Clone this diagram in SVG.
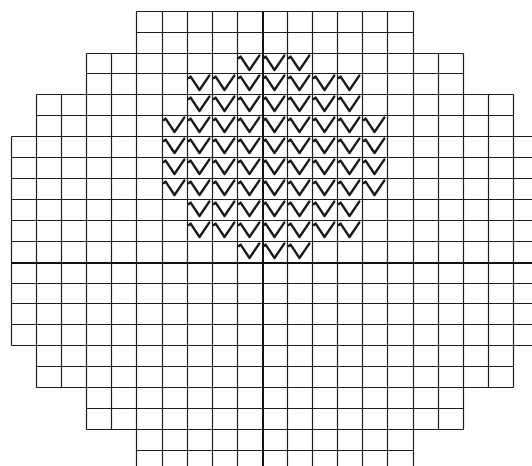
<svg xmlns="http://www.w3.org/2000/svg" xmlns:xlink="http://www.w3.org/1999/xlink" width="532" height="466" viewBox="0 0 532 466">
<style>
.g{stroke:#1e1e1e;stroke-width:1.2;fill:none}
.t{stroke:#111;stroke-width:2;fill:none}
.v{stroke:#1a1a1a;stroke-width:2.4;fill:none;stroke-linejoin:round;stroke-linecap:round}
</style>
<defs>
<path id="v" class="v" d="M1.8,5 L3.6,3.6 L12.5,17 L22.3,2.6"/>
</defs>
<rect width="532" height="466" fill="#ffffff"/>
<g id="grid">
<path class="g" d="M11.5,136.5V345.5 M36.5,94.5V387.5 M61.5,94.5V387.5 M86.5,53.5V429.5 M111.5,53.5V429.5 M136.5,11.5V471 M162.5,11.5V471 M187.5,11.5V471 M212.5,11.5V471 M237.5,11.5V471 M287.5,11.5V471 M312.5,11.5V471 M337.5,11.5V471 M362.5,11.5V471 M387.5,11.5V471 M413.5,11.5V471 M438.5,53.5V429.5 M463.5,53.5V429.5 M488.5,94.5V387.5 M513.5,94.5V387.5"/>
<path class="g" d="M136.5,11.5H413.5 M136.5,32.5H413.5 M86.5,53.5H463.5 M86.5,73.5H463.5 M36.5,94.5H513.5 M36.5,115.5H513.5 M11.5,136.5H538 M11.5,157.5H538 M11.5,178.5H538 M11.5,199.5H538 M11.5,220.5H538 M11.5,241.5H538 M11.5,283.5H538 M11.5,303.5H538 M11.5,324.5H538 M11.5,345.5H538 M36.5,366.5H513.5 M36.5,387.5H513.5 M86.5,408.5H463.5 M86.5,429.5H463.5 M136.5,450.5H413.5"/>
<path class="t" d="M263,11V471 M11,263H538"/>
</g>
<g id="marks">
<use xlink:href="#v" x="237" y="53"/><use xlink:href="#v" x="262" y="53"/><use xlink:href="#v" x="287" y="53"/>
<use xlink:href="#v" x="187" y="73"/><use xlink:href="#v" x="212" y="73"/><use xlink:href="#v" x="237" y="73"/><use xlink:href="#v" x="262" y="73"/><use xlink:href="#v" x="287" y="73"/><use xlink:href="#v" x="312" y="73"/><use xlink:href="#v" x="337" y="73"/>
<use xlink:href="#v" x="187" y="94"/><use xlink:href="#v" x="212" y="94"/><use xlink:href="#v" x="237" y="94"/><use xlink:href="#v" x="262" y="94"/><use xlink:href="#v" x="287" y="94"/><use xlink:href="#v" x="312" y="94"/><use xlink:href="#v" x="337" y="94"/>
<use xlink:href="#v" x="162" y="115"/><use xlink:href="#v" x="187" y="115"/><use xlink:href="#v" x="212" y="115"/><use xlink:href="#v" x="237" y="115"/><use xlink:href="#v" x="262" y="115"/><use xlink:href="#v" x="287" y="115"/><use xlink:href="#v" x="312" y="115"/><use xlink:href="#v" x="337" y="115"/><use xlink:href="#v" x="362" y="115"/>
<use xlink:href="#v" x="162" y="136"/><use xlink:href="#v" x="187" y="136"/><use xlink:href="#v" x="212" y="136"/><use xlink:href="#v" x="237" y="136"/><use xlink:href="#v" x="262" y="136"/><use xlink:href="#v" x="287" y="136"/><use xlink:href="#v" x="312" y="136"/><use xlink:href="#v" x="337" y="136"/><use xlink:href="#v" x="362" y="136"/>
<use xlink:href="#v" x="162" y="157"/><use xlink:href="#v" x="187" y="157"/><use xlink:href="#v" x="212" y="157"/><use xlink:href="#v" x="237" y="157"/><use xlink:href="#v" x="262" y="157"/><use xlink:href="#v" x="287" y="157"/><use xlink:href="#v" x="312" y="157"/><use xlink:href="#v" x="337" y="157"/><use xlink:href="#v" x="362" y="157"/>
<use xlink:href="#v" x="162" y="178"/><use xlink:href="#v" x="187" y="178"/><use xlink:href="#v" x="212" y="178"/><use xlink:href="#v" x="237" y="178"/><use xlink:href="#v" x="262" y="178"/><use xlink:href="#v" x="287" y="178"/><use xlink:href="#v" x="312" y="178"/><use xlink:href="#v" x="337" y="178"/><use xlink:href="#v" x="362" y="178"/>
<use xlink:href="#v" x="187" y="199"/><use xlink:href="#v" x="212" y="199"/><use xlink:href="#v" x="237" y="199"/><use xlink:href="#v" x="262" y="199"/><use xlink:href="#v" x="287" y="199"/><use xlink:href="#v" x="312" y="199"/><use xlink:href="#v" x="337" y="199"/>
<use xlink:href="#v" x="187" y="220"/><use xlink:href="#v" x="212" y="220"/><use xlink:href="#v" x="237" y="220"/><use xlink:href="#v" x="262" y="220"/><use xlink:href="#v" x="287" y="220"/><use xlink:href="#v" x="312" y="220"/><use xlink:href="#v" x="337" y="220"/>
<use xlink:href="#v" x="237" y="241"/><use xlink:href="#v" x="262" y="241"/><use xlink:href="#v" x="287" y="241"/>
</g>
</svg>
